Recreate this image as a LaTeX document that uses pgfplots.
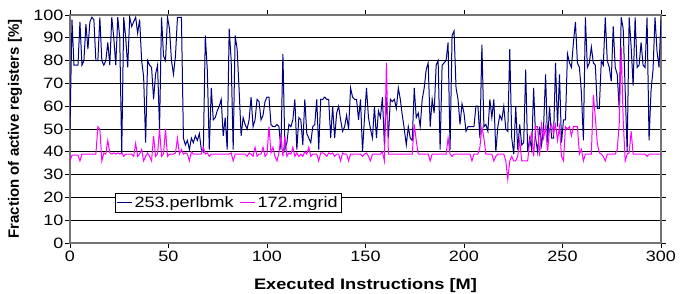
\documentclass[border=0pt]{standalone}
\usepackage{fontspec}
\setmainfont{Liberation Sans}[FakeStretch=1.2]
\newfontfamily\plainsans{Liberation Sans}
\usepackage{pgfplots}
\usepackage{pgfplotstable}
\pgfplotsset{compat=1.18}
\definecolor{perl}{RGB}{0,0,128}
\definecolor{mgrid}{RGB}{255,0,255}
\newcommand\fs{\fontsize{15}{17}\selectfont}

\pgfplotstableread{
i p m
0 50 36
1 98 38.5
2 78 38.5
3 78 38.5
4 78 38.5
5 97 36
6 78 39
7 80 39
8 96 39
9 85 39
10 97 39
11 99 39
12 98 39
13 80 39
14 80 51
15 99 50
16 80 36
17 78 39.5
18 80 39
19 88 45
20 78 39.5
21 99 39
22 90 39.5
23 78 39
24 99 39.5
25 90 39
26 39 39.5
27 99 38
28 90 39
29 77 39
30 99 39
31 95 39
32 97 38
33 99 43.7
34 92 38
35 98 39
36 80 41
37 73 36
38 44 38
39 80 39.5
40 78 38
41 77 36
42 63 47
43 74 38
44 78 39
45 50 50
46 99 38
47 82 39
48 80 50
49 99 38
50 94 39
51 80 39
52 74 39
53 82 39.5
54 99 46
55 99 39
56 99 41
57 46 39
58 43 39.5
59 45 39
60 41 36
61 46 40
62 44 39
63 47 39
64 45 39
65 48 39
66 41 39
67 40 42
68 91 39
69 76 39.5
70 41 38
71 68 39
72 54 39
73 55 39
74 58 39
75 60 39
76 63 39
77 47 39
78 55 39
79 41 39
80 94 39
81 80 39.5
82 41 36
83 91 39
84 85 39
85 67 39
86 47 39
87 55 39
88 52 39
89 50 38
90 54 39.5
91 64 39
92 51 38
93 54 42
94 63 38
95 62 39
96 54 39
97 56 42
98 62 38
99 64 39
100 64 51
101 52 39.5
102 51 42
103 51 38
104 52 36
105 51 39.5
106 41 47
107 83 38
108 41 47
109 44 38
110 52 39.5
111 51 39
112 54 42
113 63 38
114 41 39.5
115 55 38
116 54 39
117 43 38
118 63 40
119 48 39
120 46 42
121 44 38
122 51 39
123 52 39
124 63 39
125 41 36
126 63 39.5
127 63 39.5
128 64 39
129 63 38
130 63 39.5
131 46 39
132 60 39.5
133 46 38
134 57 39
135 60 39
136 54 36
137 49 39.5
138 51 39
139 56 39
140 50 36
141 68 39
142 64 39
143 63 39
144 63 39
145 54 39
146 63 39
147 40 38
148 55 39
149 68 39.5
150 55 38
151 50 36
152 46 39
153 60 39
154 46 39
155 58 39
156 55 39
157 64 40
158 43 36
159 64 79
160 46 39
161 63 39
162 62 39
163 63 39
164 59 39
165 68 39
166 63 39
167 56 39
168 50 39
169 43 39
170 51 39
171 46 39
172 45 39
173 68 52
174 55 45
175 57 39
176 51 39
177 63 39
178 68 39
179 76 39
180 79 39
181 51 36
182 63 39
183 57 39
184 78 39
185 80 39
186 41 39
187 78 39
188 79 39
189 80 39
190 88 46
191 41 39
192 91 38
193 93 39
194 68 39
195 63 39
196 52 39
197 61 39
198 57 39
199 49 39
200 51 39
201 51 39
202 51 36
203 51 39
204 60 39
205 60 39
206 46 42
207 87 51
208 51 46
209 52 39
210 49 39
211 63 39
212 55 39
213 63 36
214 40 38
215 51 39
216 56 39
217 54 39
218 60 39
219 50 36
220 49 28
221 85 36
222 46 38
223 39 36
224 60 36
225 41 38
226 52 45
227 43 36
228 44 36
229 76 36
230 40 36
231 46 45
232 41 48
233 68 38
234 46 51
235 40 51
236 51 38
237 43 52
238 51 46
239 74 51
240 44 40
241 60 50
242 46 52
243 46 48
244 79 52
245 51 45
246 74 51
247 44 38
248 54 36
249 54 51
250 83 50
251 79 51
252 77 47
253 88 51
254 97 51
255 79 51
256 77 39
257 66 41
258 45 36
259 99 39
260 77 39
261 79 39
262 86 39
263 79 65
264 78 55
265 59 43.7
266 59 39.5
267 80 39
268 78 38
269 99 36
270 80 39
271 77 39
272 71 39
273 95 39
274 77 39
275 74 41
276 59 52
277 99 86
278 94 54
279 67 36
280 40 39
281 99 39.5
282 86 49
283 69 39
284 99 39
285 77 39
286 78 39
287 88 39
288 78 39
289 77 39
290 99 38
291 45 39
292 67 39
293 76 39
294 99 39
295 84 39
296 77 39
297 98 39
}\data

\begin{document}
\begin{tikzpicture}
\useasboundingbox (0pt,0pt) rectangle (689pt,293pt);
\begin{axis}[
  at={(70pt,50pt)}, anchor=origin,
  width=591pt, height=228pt, scale only axis,
  xmin=0, xmax=300, ymin=0, ymax=100,
  xtick={0,50,...,300}, ytick={0,10,...,100},
  tick align=outside, major tick length=5pt,
  axis line style={draw=black!55, line width=1.2pt},
  tick style={black, line width=0.8pt},
  ymajorgrids, grid style={black, line width=0.8pt},
  /pgf/number format/assume math mode=true,
  ticklabel style={font=\fs, inner sep=1.5pt},
  xticklabel style={yshift=-1pt},
  xlabel={Executed Instructions [M]},
  ylabel={Fraction of active registers [\%]},
  every axis x label/.style={at={(axis description cs:0.5,-0.186)}, anchor=center, font=\fontsize{15.2}{17}\selectfont\bfseries},
  every axis y label/.style={at={(axis description cs:-0.093,0.5)}, rotate=90, anchor=center, font=\fs\plainsans\bfseries},
  legend style={at={(axis description cs:0.076,0.134)}, anchor=south west,
    legend columns=2, draw=black, fill=white, font=\fs, inner sep=1.5pt,
    /tikz/every even column/.append style={column sep=4pt}},
  legend image code/.code={\draw[#1] (0pt,0pt) -- (15pt,0pt);},
]
\addplot[perl, line width=1pt] table[x expr=\thisrow{i}*1.0101, y=p] {\data};
\addlegendentry{253.perlbmk}
\addplot[mgrid, line width=1pt] table[x expr=\thisrow{i}*1.0101, y=m] {\data};
\addlegendentry{172.mgrid}
\end{axis}
\end{tikzpicture}
\end{document}
